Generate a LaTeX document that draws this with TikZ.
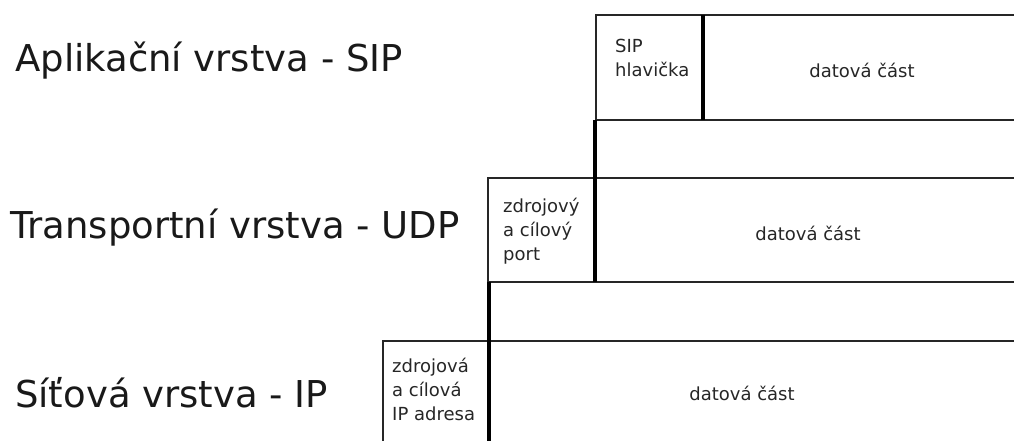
\documentclass[tikz,border=0pt]{standalone}
\usepackage{fontspec}
\setmainfont{DejaVu Sans}
\begin{document}
\begin{tikzpicture}[x=1pt,y=-1pt,
  thinline/.style={line width=1.5pt, black!85},
  thickline/.style={line width=3.2pt, black},
  big/.style={anchor=base west, inner sep=0pt, font=\fontsize{37}{44}\selectfont, text=black!90},
  small/.style={anchor=base west, inner sep=0pt, font=\fontsize{18}{24}\selectfont, align=left, text=black!85},
  data/.style={anchor=base, inner sep=0pt, font=\fontsize{18}{24}\selectfont, text=black!85}]
\useasboundingbox (0,0) rectangle (1014,441);

% layer labels
\node[big] (lsip) at (15,72) {Aplikační vrstva - SIP};
\node[big] (ludp) at (10,238) {Transportní vrstva - UDP};
\node[big] (lip)  at (15,407) {Síťová vrstva - IP};

% SIP row
\coordinate (s1) at (596,15);
\coordinate (s2) at (1014,15);
\coordinate (s3) at (596,120);
\coordinate (s4) at (1014,120);
\coordinate (sd1) at (703,15);
\coordinate (sd2) at (703,120);
\draw[thinline] (s2) -- (s1) -- (s3) -- (s4);
\draw[thickline] (sd1) -- (sd2);

% UDP row
\coordinate (u1) at (488,178);
\coordinate (u2) at (1014,178);
\coordinate (u3) at (488,282);
\coordinate (u4) at (1014,282);
\coordinate (ud1) at (595,120);
\coordinate (ud2) at (595,282);
\draw[thinline] (u2) -- (u1) -- (u3) -- (u4);
\draw[thickline] (ud1) -- (ud2);

% IP row
\coordinate (i1) at (383,341);
\coordinate (i2) at (1014,341);
\coordinate (i3) at (383,441);
\coordinate (id1) at (489,282);
\coordinate (id2) at (489,441);
\draw[thinline] (i2) -- (i1) -- (i3);
\draw[thickline] (id1) -- (id2);

% header texts (base = last line)
\node[small] (hsip) at (615,77) {SIP\\hlavička};
\node[small] (hudp) at (503,260) {zdrojový\\a cílový\\port};
\node[small] (hip)  at (392,420) {zdrojová\\a cílová\\IP adresa};

% data texts
\node[data] (dsip) at (862,78)  {datová část};
\node[data] (dudp) at (808,240) {datová část};
\node[data] (dip)  at (742,400) {datová část};
\end{tikzpicture}
\end{document}
